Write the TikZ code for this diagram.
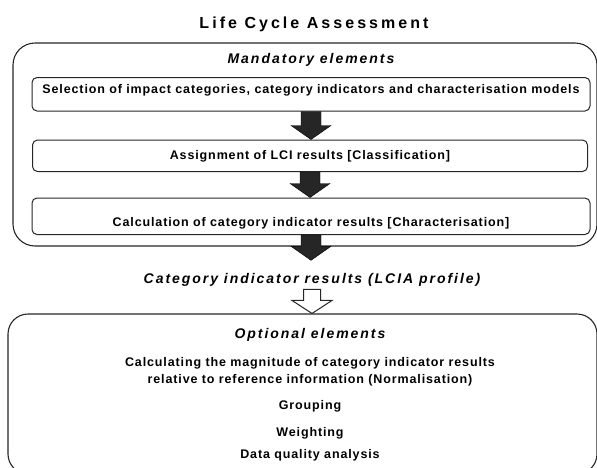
\documentclass[tikz,border=0pt]{standalone}
\usepackage{fontspec}
\setmainfont{Liberation Sans}
\usetikzlibrary{calc}

\newcommand{\titlefont}{\fontsize{16}{19}\selectfont\bfseries\addfontfeatures{LetterSpace=19}}
\newcommand{\headfont}{\fontsize{14}{17}\selectfont\bfseries\itshape\addfontfeatures{LetterSpace=14}}
\newcommand{\bodyfont}{\fontsize{12.5}{17}\selectfont\bfseries\addfontfeatures{LetterSpace=7}}

\tikzset{
  arrowpath/.style n args={3}{to path={
    let \p1=(\tikztostart), \p2=(\tikztotarget) in
    (\x1-#1,\y1) -- (\x1-#1,\y2+#3) -- (\x1-#2,\y2+#3) -- (\x1,\y2)
    -- (\x1+#2,\y2+#3) -- (\x1+#1,\y2+#3) -- (\x1+#1,\y1) -- cycle}}
}

\begin{document}
\begin{tikzpicture}[x=1pt, y=-1pt,
    frame/.style={draw=black!85, line width=1.1pt, rounded corners=22pt, inner sep=0pt},
    stepbox/.style={draw=black!85, line width=1pt, rounded corners=5pt, inner sep=0pt,
      anchor=base, minimum width=558pt, font=\bodyfont},
    heading/.style={anchor=base, font=\headfont},
    entry/.style={anchor=base, align=center, font=\bodyfont},
    darrow/.style={fill=black!85, arrowpath={10pt}{20pt}{14pt}},
    harrow/.style={draw=black!85, fill=white, line width=1pt, arrowpath={8.5pt}{20pt}{13pt}}
]
\useasboundingbox (0,0) rectangle (597,467);
\node[anchor=base, font=\titlefont] (title) at (314,28) {Life Cycle Assessment};
% mandatory part
\node[frame, minimum width=584pt, minimum height=203pt] (mand) at (305,144.5) {};
\node[heading] (mandlbl) at (311,63) {Mandatory elements};
\node[stepbox, text height=15.5pt, text depth=18pt] (select) at (311,93)
  {Selection of impact categories, category indicators and characterisation models};
\node[stepbox, text height=19.5pt, text depth=12pt, minimum width=555pt] (assign) at (310,159.5)
  {Assignment of LCI results [Classification]};
\node[stepbox, text height=28.5pt, text depth=8pt] (charac) at (311,226.5)
  {Calculation of category indicator results [Characterisation]};
\node[heading] (profile) at (312,283) {Category indicator results (LCIA profile)};
% optional part
\node[frame, rounded corners=20pt, minimum width=589pt, minimum height=160pt] (opt) at (302.5,394) {};
\node[heading] (optlbl) at (310,338) {Optional elements};
\node[entry, anchor=center] (norm) at (310,371.8)
  {Calculating the magnitude of category indicator results\\relative to reference information (Normalisation)};
\node[entry] (group) at (310,409) {Grouping};
\node[entry] (weight) at (310,436) {Weighting};
\node[entry] (quality) at (310,458.5) {Data quality analysis};
% arrows
\draw[darrow] (select.south) to (assign.north);
\draw[darrow] (assign.south) to (charac.north);
\draw[darrow] (charac.south) to ($(profile.north)+(0,-9)$);
\draw[harrow] (profile.south) to (opt.north);
\end{tikzpicture}
\end{document}
